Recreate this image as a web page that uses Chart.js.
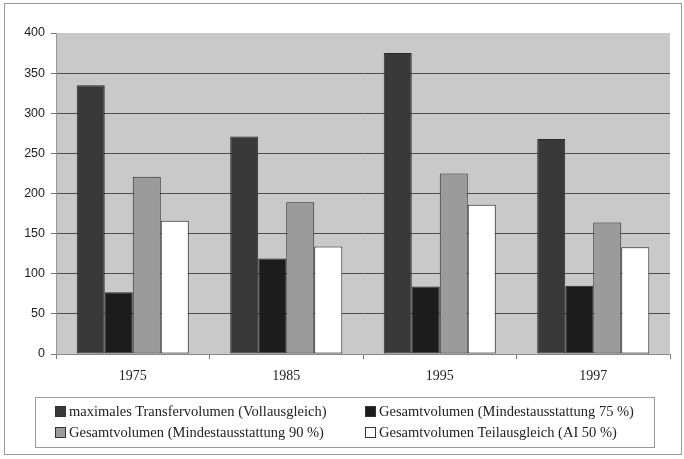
<!DOCTYPE html>
<html>
<head>
<meta charset="utf-8">
<script src="https://cdn.jsdelivr.net/npm/chart.js@4"></script>
<style>
  body { margin: 0; background: #fff; }
  #wrap { position: relative; width: 684px; height: 459px; }
  #frame { position: absolute; left: 4px; top: 3px; width: 678px; height: 452px; border: 1px solid #9a9a9a; box-sizing: border-box; pointer-events: none; }
  #legend { position: absolute; left: 35px; top: 397px; width: 620px; height: 51px; border: 1px solid #9a9a9a; box-sizing: border-box;
    font-family: "Liberation Serif", serif; font-size: 14.5px; color: #222; }
  .item { position: absolute; display: flex; align-items: center; white-space: nowrap; }
  .sw { width: 9px; height: 9px; border: 1px solid #333; margin-right: 3px; }
</style>
</head>
<body>
<div id="wrap">
  <canvas id="c" width="684" height="459"></canvas>
  <div id="frame"></div>
  <div id="legend"></div>
</div>
<script>
const years = ["1975", "1985", "1995", "1997"];
const maxTransfer = [335, 271, 375, 268];
const gesamt75 = [77, 119, 84, 85];
const gesamt90 = [221, 189, 225, 164];
const teilausgleich = [166, 134, 186, 133];
const yTicks = [0, 50, 100, 150, 200, 250, 300, 350, 400];

const plotBg = {
    id: "plotBg",
    beforeDraw(chart) {
        const a = chart.chartArea;
        const ctx = chart.ctx;
        ctx.save();
        ctx.fillStyle = "#c9c9c9";
        ctx.fillRect(a.left, a.top, a.right - a.left, a.bottom - a.top);
        ctx.restore();
    }
};

const chart = new Chart(document.getElementById("c"), {
    type: "bar",
    data: {
        labels: years,
        datasets: [
            { label: "maximales Transfervolumen (Vollausgleich)", data: maxTransfer, backgroundColor: "#393939" },
            { label: "Gesamtvolumen (Mindestausstattung 75 %)", data: gesamt75, backgroundColor: "#1c1c1c" },
            { label: "Gesamtvolumen (Mindestausstattung 90 %)", data: gesamt90, backgroundColor: "#9b9b9b" },
            { label: "Gesamtvolumen Teilausgleich (AI 50 %)", data: teilausgleich, backgroundColor: "#ffffff" }
        ].map(d => Object.assign(d, { borderColor: "#2a2a2a", borderWidth: 1, borderSkipped: false }))
    },
    options: {
        responsive: false,
        animation: false,
        devicePixelRatio: 1,
        layout: { padding: { left: 0, top: 33, right: 14, bottom: 75 } },
        datasets: { bar: { categoryPercentage: 0.73, barPercentage: 1 } },
        plugins: { legend: { display: false }, tooltip: { enabled: false } },
        scales: {
            x: {
                afterFit: s => { s.height = 30; },
                offset: true,
                grid: { offset: true, drawOnChartArea: false, drawTicks: true, tickLength: 5, color: "#777" },
                border: { color: "#888" },
                ticks: { padding: 9, color: "#222", font: { family: "Liberation Serif", size: 14 } }
            },
            y: {
                min: 0, max: 400,
                afterFit: s => { s.width = 56; },
                afterBuildTicks: s => { s.ticks = yTicks.map(v => ({ value: v })); },
                grid: {
                    tickLength: 5,
                    color: c => (c.tick && (c.tick.value === 400 || c.tick.value === 0)) ? "rgba(0,0,0,0)" : "#4e4e4e",
                    tickColor: "#777"
                },
                border: { color: "#999" },
                ticks: { padding: 6, color: "#222", font: { family: "Liberation Sans", size: 12.5 } }
            }
        }
    },
    plugins: [plotBg]
});

const legendEl = document.getElementById("legend");
const legendPos = [[19, 5], [329, 5], [19, 26], [329, 26]];
chart.data.datasets.forEach((ds, i) => {
    const item = document.createElement("div");
    item.className = "item";
    item.style.left = legendPos[i][0] + "px";
    item.style.top = legendPos[i][1] + "px";
    const sw = document.createElement("span");
    sw.className = "sw";
    sw.style.background = ds.backgroundColor;
    const txt = document.createElement("span");
    txt.textContent = ds.label;
    item.append(sw, txt);
    legendEl.append(item);
});
</script>
</body>
</html>
